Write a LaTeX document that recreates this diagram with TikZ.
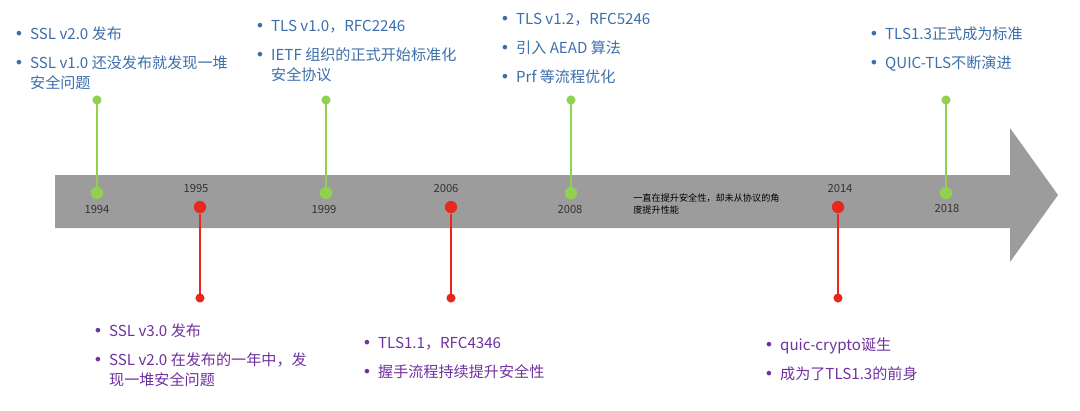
\documentclass[tikz,border=0pt]{standalone}
\usepackage{fontspec}
\setmainfont{Noto Sans CJK SC}
\newfontfamily\bulfont{DejaVu Sans}
\newcommand\bl{\makebox[9pt][l]{\bulfont\fontsize{9pt}{9pt}\selectfont •}}
\newcommand\ind{\hspace*{9pt}}
\begin{document}
\begin{tikzpicture}[x=0.02cm,y=-0.02cm,
  blu/.style={text=bluec,font=\fontsize{8.6pt}{11.5pt}\selectfont,anchor=north west,inner sep=0pt,align=left},
  pur/.style={text=purc,font=\fontsize{8.6pt}{11.5pt}\selectfont,anchor=north west,inner sep=0pt,align=left},
  yr/.style={font=\fontsize{6.4pt}{7pt}\selectfont,text=black!80,inner sep=0pt},
  gdot/.style={circle,fill=greenc,inner sep=0pt,minimum size=7pt},
  rdot/.style={circle,fill=redc,inner sep=0pt,minimum size=7pt},
  gl/.style={draw=greenc,line width=1.3pt},
  rl/.style={draw=redc,line width=1.3pt}]
\definecolor{bluec}{RGB}{60,110,170}
\definecolor{purc}{RGB}{112,48,160}
\definecolor{greenc}{RGB}{146,208,80}
\definecolor{redc}{RGB}{230,40,30}
\useasboundingbox (0,0) rectangle (1080,410);
\fill[gray!78] (55,175) -- (1010,175) -- (1010,128) -- (1058,195) -- (1010,262) -- (1010,228) -- (55,228) -- cycle;
\foreach \n/\x in {a/97,b/326,c/571,d/946}{
  \node[gdot] (g\n) at (\x,193) {};
  \coordinate (gt\n) at (\x,100);
  \fill[greenc] (gt\n) circle (2.6pt);
  \draw[gl] (gt\n) -- (g\n);
}
\foreach \n/\x in {a/200,b/451,c/838}{
  \node[rdot] (r\n) at (\x,207) {};
  \coordinate (rb\n) at (\x,298);
  \fill[redc] (rb\n) circle (2.6pt);
  \draw[rl] (r\n) -- (rb\n);
}
\node[yr] (y1) at (97,209) {1994};
\node[yr] (y2) at (196,188) {1995};
\node[yr] (y3) at (324,209) {1999};
\node[yr] (y4) at (446,188) {2006};
\node[yr] (y5) at (570,209) {2008};
\node[yr] (y6) at (840,188) {2014};
\node[yr] (y7) at (947,208) {2018};
\node[font=\fontsize{5.2pt}{7pt}\selectfont,anchor=north west,inner sep=0pt,align=left] (mid) at (633,193) {一直在提升安全性，却未从协议的角\\度提升性能};
\node[blu] (t1) at (14,26) {\bl SSL v2.0 发布\\[5pt]\bl SSL v1.0 还没发布就发现一堆\\\ind 安全问题};
\node[blu] (t2) at (255,20) {\bl TLS v1.0，RFC2246\\[5pt]\bl IETF 组织的正式开始标准化\\\ind 安全协议};
\node[blu] (t3) at (500,13) {\bl TLS v1.2，RFC5246\\[5pt]\bl 引入 AEAD 算法\\[5pt]\bl Prf 等流程优化};
\node[blu] (t4) at (869,26) {\bl TLS1.3正式成为标准\\[5pt]\bl QUIC-TLS不断演进};
\node[pur] (t5) at (93,323) {\bl SSL v3.0 发布\\[5pt]\bl SSL v2.0 在发布的一年中，发\\\ind 现一堆安全问题};
\node[pur] (t6) at (362,337) {\bl TLS1.1，RFC4346\\[5pt]\bl 握手流程持续提升安全性};
\node[pur] (t7) at (764,337) {\bl quic-crypto诞生\\[5pt]\bl 成为了TLS1.3的前身};
\end{tikzpicture}
\end{document}
